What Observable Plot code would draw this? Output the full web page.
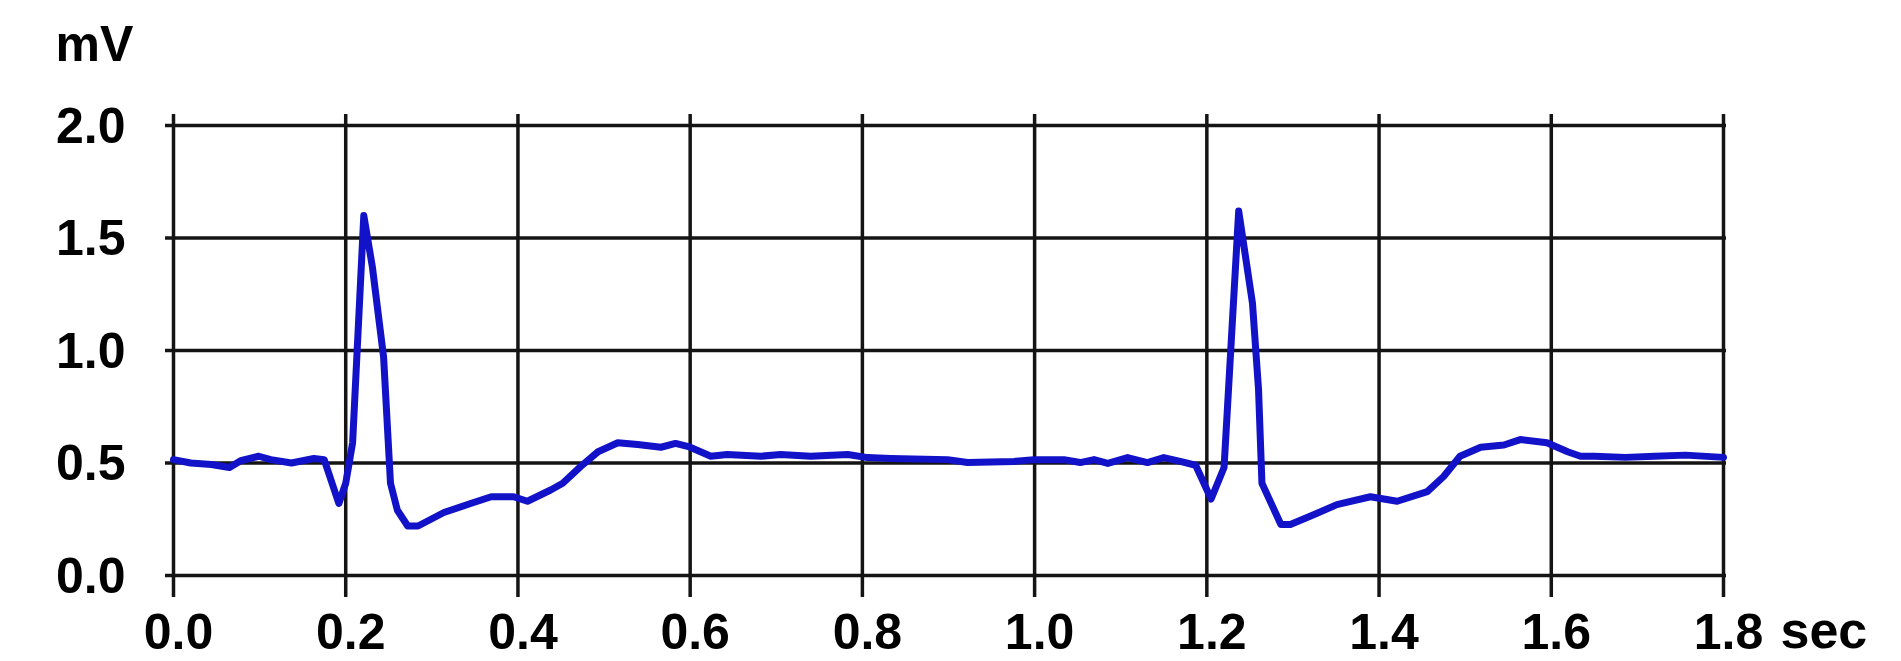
<!DOCTYPE html>
<html>
<head>
<meta charset="utf-8">
<script src="https://cdn.jsdelivr.net/npm/d3@7"></script>
<script src="https://cdn.jsdelivr.net/npm/@observablehq/plot@0.6"></script>
<style>
  html, body { margin: 0; padding: 0; background: #ffffff; }
  #chart { width: 1901px; height: 661px; overflow: hidden; }
</style>
</head>
<body>
<div id="chart"></div>
<script>
// Time (sec) and voltage (mV)
const timeSec = [
  0.000, 0.020, 0.044, 0.065, 0.078, 0.099, 0.113, 0.137, 0.163, 0.175,
  0.192, 0.200, 0.208, 0.221, 0.231, 0.244, 0.252, 0.260, 0.272, 0.284,
  0.314, 0.345, 0.369, 0.395, 0.411, 0.438, 0.452, 0.473, 0.493, 0.516,
  0.539, 0.566, 0.583, 0.598, 0.624, 0.643, 0.682, 0.705, 0.740, 0.783,
  0.806, 0.833, 0.899, 0.922, 0.976, 0.999, 1.034, 1.053, 1.069, 1.085,
  1.108, 1.131, 1.150, 1.169, 1.187, 1.205, 1.220, 1.237, 1.253, 1.260,
  1.264, 1.286, 1.297, 1.324, 1.351, 1.390, 1.421, 1.456, 1.475, 1.494,
  1.518, 1.545, 1.564, 1.595, 1.619, 1.634, 1.650, 1.686, 1.720, 1.756,
  1.800
];
const voltageMv = [
  0.515, 0.500, 0.493, 0.480, 0.510, 0.530, 0.515, 0.500, 0.520, 0.515,
  0.320, 0.410, 0.590, 1.600, 1.370, 0.970, 0.410, 0.290, 0.220, 0.220,
  0.280, 0.320, 0.350, 0.350, 0.330, 0.380, 0.410, 0.485, 0.550, 0.590,
  0.582, 0.570, 0.587, 0.573, 0.530, 0.538, 0.530, 0.538, 0.530, 0.538,
  0.524, 0.520, 0.515, 0.502, 0.507, 0.515, 0.515, 0.502, 0.515, 0.498,
  0.524, 0.502, 0.524, 0.507, 0.490, 0.340, 0.480, 1.620, 1.210, 0.830,
  0.410, 0.227, 0.227, 0.270, 0.315, 0.350, 0.330, 0.373, 0.440, 0.530,
  0.570, 0.580, 0.604, 0.590, 0.550, 0.530, 0.530, 0.525, 0.530, 0.535,
  0.525
];
const xTicks = [0, 0.2, 0.4, 0.6, 0.8, 1.0, 1.2, 1.4, 1.6, 1.8];
const yTicks = [0, 0.5, 1.0, 1.5, 2.0];
const yUnit = ["mV"];
const xUnit = ["sec"];

const trace = timeSec.map((t, i) => ({t, v: voltageMv[i]}));

const font = "'Liberation Sans', Arial, Helvetica, sans-serif";
const gridColor = "#141414";

const chart = Plot.plot({
  width: 1901,
  height: 661,
  marginTop: 125,
  marginBottom: 86,
  marginLeft: 173,
  marginRight: 178,
  x: {domain: [0, 1.8]},
  y: {domain: [0, 2]},
  style: {
    fontFamily: font,
    fontWeight: "bold",
    fontSize: "50px",
    background: "#ffffff",
    color: "#000000",
    overflow: "visible"
  },
  marks: [
    Plot.ruleX(xTicks, {x: d => d, stroke: gridColor, strokeWidth: 3.5, insetTop: -11, insetBottom: -22}),
    Plot.ruleY(yTicks, {y: d => d, stroke: gridColor, strokeWidth: 3.5, insetLeft: -8, insetRight: -3}),
    Plot.axisX(xTicks, {
      tickSize: 0, tickPadding: 38, tickFormat: d3.format(".1f"), label: null,
      dx: 5, fontSize: 50, fontWeight: "bold", fill: "#000"
    }),
    Plot.axisY(yTicks, {
      tickSize: 0, tickPadding: 48, tickFormat: d3.format(".1f"), label: null,
      dy: 1, fontSize: 50, fontWeight: "bold", fill: "#000"
    }),
    Plot.line(trace, {
      x: "t", y: "v", stroke: "#1212c8", strokeWidth: 7,
      strokeLinejoin: "round", strokeLinecap: "round"
    }),
    Plot.text(yUnit, {
      text: d => d, frameAnchor: "top-left", textAnchor: "start", lineAnchor: "top",
      dx: -118, dy: -100, fontSize: 50, fontWeight: "bold", fill: "#000"
    }),
    Plot.text(xUnit, {
      text: d => d, frameAnchor: "bottom-right", textAnchor: "start", lineAnchor: "top",
      dx: 57, dy: 36, fontSize: 52, fontWeight: "bold", fill: "#000"
    })
  ]
});

document.getElementById("chart").appendChild(chart);
</script>
</body>
</html>
